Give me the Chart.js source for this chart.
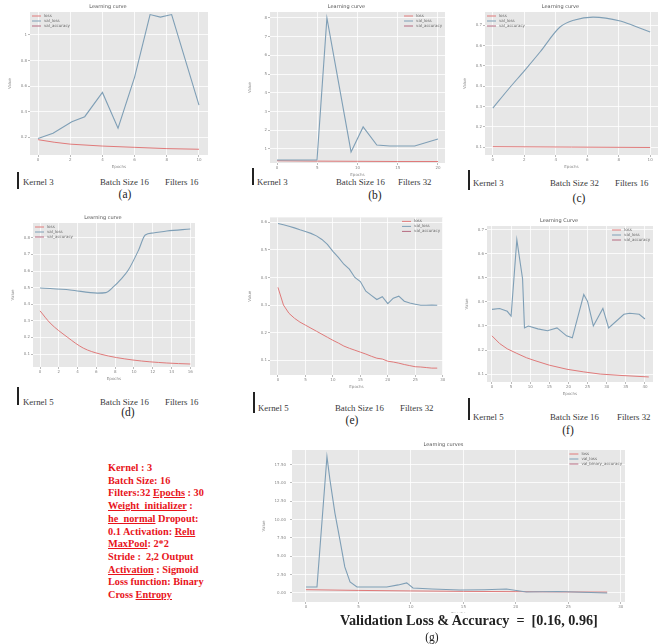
<!DOCTYPE html>
<html>
<head>
<meta charset="utf-8">
<script src="https://cdn.jsdelivr.net/npm/chart.js@4"></script>
<style>
body { margin: 0; background: #fff; width: 667px; height: 644px; position: relative; overflow: hidden; font-family: "Liberation Serif", serif; }
.cap { position: absolute; font-size: 8.8px; line-height: 9px; color: #3a3a3a; white-space: nowrap; }
.bar { position: absolute; width: 1.5px; background: #222; }
.lab { position: absolute; font-size: 11.5px; line-height: 12px; color: #222; transform: translateX(-50%); }
.red { position: absolute; left: 108px; top: 462px; color: #e8141b; font-weight: bold; font-size: 10.3px; line-height: 12.7px; white-space: nowrap; }
.val { position: absolute; left: 340px; top: 613px; font-weight: bold; font-size: 14.2px; line-height: 15px; color: #222; white-space: nowrap; background: #fff; }
</style>
</head>
<body>

<div class="bar" style="left:17px;top:172px;height:17px"></div>
<div class="cap" style="left:23px;top:178px">Kernel 3</div>
<div class="cap" style="left:100px;top:178px">Batch Size 16</div>
<div class="cap" style="left:165px;top:178px">Filters 16</div>
<div class="lab" style="left:125px;top:188px">(a)</div>

<div class="bar" style="left:252px;top:168px;height:17px"></div>
<div class="cap" style="left:257px;top:178px">Kernel 3</div>
<div class="cap" style="left:336px;top:178px">Batch Size 16</div>
<div class="cap" style="left:398px;top:178px">Filters 32</div>
<div class="lab" style="left:375px;top:189px">(b)</div>

<div class="bar" style="left:468px;top:170px;height:20px"></div>
<div class="cap" style="left:473px;top:179px">Kernel 3</div>
<div class="cap" style="left:550px;top:179px">Batch Size 32</div>
<div class="cap" style="left:615px;top:179px">Filters 16</div>
<div class="lab" style="left:579px;top:192px">(c)</div>

<div class="bar" style="left:17px;top:387px;height:18px"></div>
<div class="cap" style="left:23px;top:398px">Kernel 5</div>
<div class="cap" style="left:100px;top:398px">Batch Size 16</div>
<div class="cap" style="left:165px;top:398px">Filters 16</div>
<div class="lab" style="left:128px;top:406px">(d)</div>

<div class="bar" style="left:253px;top:392px;height:21px"></div>
<div class="cap" style="left:258px;top:404px">Kernel 5</div>
<div class="cap" style="left:335px;top:404px">Batch Size 16</div>
<div class="cap" style="left:400px;top:404px">Filters 32</div>
<div class="lab" style="left:352px;top:414px">(e)</div>

<div class="bar" style="left:468px;top:398px;height:22px"></div>
<div class="cap" style="left:473px;top:413px">Kernel 5</div>
<div class="cap" style="left:550px;top:413px">Batch Size 16</div>
<div class="cap" style="left:617px;top:413px">Filters 32</div>
<div class="lab" style="left:568px;top:424px">(f)</div>

<div class="red">
Kernel : 3<br>
Batch Size: 16<br>
Filters:32 <u>Epochs</u> : 30<br>
<u>Weight_initializer</u> :<br>
<u>he_normal</u> Dropout:<br>
0.1 Activation: <u>Relu</u><br>
<u>MaxPool</u>: 2*2<br>
Stride :&nbsp; 2,2 Output<br>
<u>Activation</u> : Sigmoid<br>
Loss function: Binary<br>
Cross <u>Entropy</u>
</div>

<script>
// werte aus den sieben kurven
const aBlueX = [0, 0.93, 2.1, 2.9, 4.0, 4.97, 6.0, 6.96, 7.6, 8.3, 10.0];
const aBlueY = [0.19, 0.23, 0.32, 0.36, 0.55, 0.27, 0.67, 1.16, 1.14, 1.16, 0.45];
const aRedX = [0, 1, 2, 4, 6, 8, 10];
const aRedY = [0.18, 0.16, 0.145, 0.13, 0.12, 0.11, 0.105];

const bBlueX = [0, 2, 4.97, 6.2, 9.2, 10.7, 12.4, 14, 17.1, 20];
const bBlueY = [0.41, 0.41, 0.41, 8.0, 0.84, 2.18, 1.21, 1.16, 1.16, 1.53];
const bRedX = [0, 5, 10, 15, 20];
const bRedY = [0.37, 0.35, 0.34, 0.33, 0.33];

const cBlueX = [0, 1, 2.04, 3.0, 4.27, 5.2, 6.37, 8.1, 9.0, 10];
const cBlueY = [0.292, 0.386, 0.479, 0.568, 0.691, 0.726, 0.740, 0.721, 0.696, 0.667];
const cRedX = [0, 5, 10];
const cRedY = [0.102, 0.1, 0.098];

const dBlueX = [0, 3.2, 6.1, 7.0, 7.8, 8.6, 9.4, 10.5, 11.2, 12.05, 13.5, 16];
const dBlueY = [0.498, 0.486, 0.467, 0.47, 0.504, 0.55, 0.606, 0.727, 0.817, 0.829, 0.841, 0.853];
const dRedX = [0, 1.07, 2.9, 4.6, 6.4, 9.9, 13.5, 16];
const dRedY = [0.36, 0.287, 0.202, 0.136, 0.1, 0.064, 0.046, 0.04];

const eEpochs = [0, 1, 2, 3, 4, 5, 6, 7, 8, 9, 10, 11, 12, 13, 14, 15, 16, 17, 18, 19, 20, 21, 22, 23, 24, 25, 26, 27, 28, 29];
const eBlue = [0.596, 0.591, 0.586, 0.58, 0.573, 0.567, 0.56, 0.551, 0.538, 0.52, 0.495, 0.473, 0.448, 0.43, 0.4, 0.385, 0.35, 0.335, 0.32, 0.33, 0.305, 0.325, 0.332, 0.314, 0.307, 0.303, 0.299, 0.299, 0.3, 0.299];
const eRed = [0.364, 0.3, 0.27, 0.252, 0.238, 0.227, 0.216, 0.205, 0.194, 0.183, 0.172, 0.162, 0.151, 0.143, 0.136, 0.129, 0.122, 0.114, 0.107, 0.104, 0.096, 0.093, 0.089, 0.084, 0.08, 0.076, 0.075, 0.073, 0.071, 0.071];

const fBlueX = [0, 2, 4, 5, 6.5, 8, 8.5, 9.5, 12, 14.5, 17, 19.5, 21, 24, 25, 26.5, 29, 30.5, 34.5, 36, 38.5, 40];
const fBlueY = [0.369, 0.373, 0.361, 0.341, 0.659, 0.496, 0.292, 0.3, 0.288, 0.28, 0.292, 0.259, 0.251, 0.431, 0.402, 0.3, 0.373, 0.292, 0.349, 0.353, 0.349, 0.329];
const fRedX = [0, 2, 4, 6.5, 9, 11, 15, 19.6, 24, 28.3, 34, 41];
const fRedY = [0.259, 0.227, 0.205, 0.186, 0.168, 0.157, 0.137, 0.12, 0.109, 0.1, 0.094, 0.088];

const gBlueX = [0, 1.05, 2.0, 2.29, 2.76, 3.24, 3.7, 4.2, 4.86, 7.7, 8.8, 9.6, 10.2, 12, 14.7, 17, 19.1, 21.0, 24, 28.7];
const gBlueY = [0.82, 0.82, 18.6, 15.4, 10.9, 7.2, 3.55, 1.5, 0.82, 0.82, 1.1, 1.37, 0.68, 0.55, 0.41, 0.45, 0.55, 0.14, 0.2, 0.0];
const gRedX = [0, 5, 10, 15, 20, 25, 28.7];
const gRedY = [0.45, 0.35, 0.28, 0.22, 0.18, 0.14, 0.12];

const legendNames = ["loss", "val_loss", "val_accuracy"];
const legendNamesG = ["loss", "val_loss", "val_binary_accuracy"];

const blau = "#7f9fb6";
const rot = "#e07a7a";
const legendColors = [rot, blau, "#b56a80"];
const xH = 14, titleH = 10, padR = 4;

const plotBg = {
    id: "plotBg",
    beforeDraw(chart) {
        const a = chart.chartArea;
        const c = chart.ctx;
        c.save();
        c.fillStyle = "#e7e7e7";
        c.fillRect(a.left, a.top, a.width, a.height);
        c.restore();
    },
};

// legende innerhalb der zeichenfläche wie bei matplotlib
const innerLegend = {
    id: "innerLegend",
    afterDatasetsDraw(chart, args, opts) {
        const a = chart.chartArea;
        const c = chart.ctx;
        c.save();
        c.font = '4px "DejaVu Sans"';
        const names = opts.names;
        const textW = Math.max(...names.map((n) => c.measureText(n).width));
        const w = 12 + textW;
        let x = opts.side === "right" ? a.right - w - 3 : a.left + 2;
        let y = a.top + 4;
        names.forEach((name, i) => {
            c.strokeStyle = legendColors[i];
            c.lineWidth = 1;
            c.beginPath();
            c.moveTo(x, y);
            c.lineTo(x + 9, y);
            c.stroke();
            c.fillStyle = "#666";
            c.textBaseline = "middle";
            c.fillText(name, x + 12, y);
            y += 5;
        });
        c.restore();
    },
};

function panel(rect, blueX, blueY, redX, redY, xAxis, yAxis, side, title, smooth, names, yFmt, yW) {
    yW = yW || 22;
    const top = title ? titleH : 3;
    const cv = document.createElement("canvas");
    cv.width = rect.w + yW + padR;
    cv.height = rect.h + top + xH;
    cv.style.cssText = "position:absolute;left:" + (rect.x - yW) + "px;top:" + (rect.y - top) + "px";
    document.body.appendChild(cv);
    const pts = (xs, ys) => xs.map((x, i) => ({ x: x, y: ys[i] }));
    const tickFont = { size: 4, family: "DejaVu Sans" };
    const grid = { color: "#fff", lineWidth: 0.8, tickLength: 2, tickColor: "#aaa" };

    new Chart(cv, {
        type: "line",
        data: {
            datasets: [
                {
                    label: "val_loss",
                    data: pts(blueX, blueY),
                    borderColor: blau,
                    borderWidth: 1.1,
                    pointRadius: 0,
                    cubicInterpolationMode: smooth ? "monotone" : "default",
                },
                {
                    label: "loss",
                    data: pts(redX, redY),
                    borderColor: rot,
                    borderWidth: 1,
                    pointRadius: 0,
                    cubicInterpolationMode: smooth ? "monotone" : "default",
                },
            ],
        },
        options: {
            responsive: false,
            animation: false,
            layout: { padding: { right: padR, top: title ? 0 : 3 } },
            plugins: {
                legend: { display: false },
                tooltip: { enabled: false },
                title: {
                    display: !!title,
                    text: title,
                    font: { size: 5, family: "DejaVu Sans", weight: "normal" },
                    color: "#555",
                    padding: { top: 2, bottom: 2 },
                },
                innerLegend: { side: side, names: names || legendNames },
            },
            scales: {
                x: {
                    type: "linear",
                    min: xAxis.min,
                    max: xAxis.max,
                    afterFit: (s) => { s.height = xH; },
                    ticks: { stepSize: xAxis.step, includeBounds: false, font: tickFont, color: "#888", maxRotation: 0, padding: 1 },
                    grid: grid,
                    border: { display: false },
                    title: { display: true, text: "Epochs", font: tickFont, color: "#888", padding: 0 },
                },
                y: {
                    min: yAxis.min,
                    max: yAxis.max,
                    afterFit: (s) => { s.width = yW; },
                    ticks: {
                        stepSize: yAxis.step,
                        includeBounds: false,
                        font: tickFont,
                        color: "#888",
                        padding: yFmt ? 4 : 1,
                        callback: yFmt ? (v) => v.toFixed(2) : undefined,
                    },
                    grid: grid,
                    border: { display: false },
                    title: { display: true, text: "Value", font: tickFont, color: "#888", padding: 0 },
                },
            },
        },
        plugins: [plotBg, innerLegend],
    });
}

panel({ x: 30, y: 12, w: 178, h: 143 }, aBlueX, aBlueY, aRedX, aRedY,
    { min: -0.5, max: 10.56, step: 2 }, { min: 0.06, max: 1.18, step: 0.2 }, "left", "Learning curve", false);
panel({ x: 270, y: 12, w: 175, h: 151 }, bBlueX, bBlueY, bRedX, bRedY,
    { min: -0.87, max: 20.87, step: 5 }, { min: 0.25, max: 8.32, step: 1 }, "right", "Learning curve", false);
panel({ x: 485, y: 12, w: 173, h: 143 }, cBlueX, cBlueY, cRedX, cRedY,
    { min: -0.5, max: 10.5, step: 2 }, { min: 0.061, max: 0.765, step: 0.1 }, "left", "Learning curve", true);
panel({ x: 33, y: 223, w: 162, h: 144 }, dBlueX, dBlueY, dRedX, dRedY,
    { min: -0.75, max: 16.5, step: 2 }, { min: 0.022, max: 0.889, step: 0.1 }, "left", "Learning curve", true);
panel({ x: 270, y: 217, w: 173, h: 158 }, eEpochs, eBlue, eEpochs, eRed,
    { min: -1.45, max: 30.05, step: 5 }, { min: 0.046, max: 0.618, step: 0.1 }, "right", "", false);
panel({ x: 487, y: 226, w: 166, h: 156 }, fBlueX, fBlueY, fRedX, fRedY,
    { min: -1.3, max: 42.1, step: 5 }, { min: 0.067, max: 0.716, step: 0.1 }, "right", "Learning Curve", false);
panel({ x: 292, y: 450, w: 333, h: 152 }, gBlueX, gBlueY, gRedX, gRedY,
    { min: -1.33, max: 30.4, step: 5 }, { min: -1.23, max: 19.5, step: 2.5 }, "right", "Learning curves", false, legendNamesG, true, 30);
</script>

<div class="val">Validation Loss &amp; Accuracy&nbsp; =&nbsp; [0.16, 0.96]</div>
<div class="lab" style="left:432px;top:631px">(g)</div>
</body>
</html>
